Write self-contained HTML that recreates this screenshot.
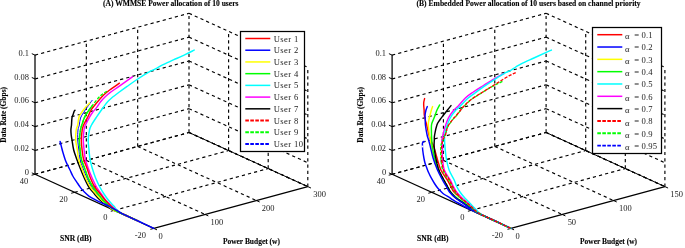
<!DOCTYPE html>
<html><head><meta charset="utf-8"><style>
html,body{margin:0;padding:0;background:#fff;}
svg{display:block;will-change:transform;}
.g{stroke:#000;stroke-width:1.15;stroke-dasharray:3.2 3.1;fill:none;}
.ax{stroke:#000;stroke-width:1.25;fill:none;}
.ax2{stroke:#000;stroke-width:1.0;fill:none;}
.tk{stroke:#000;stroke-width:1;fill:none;}
path{fill:none;stroke-width:1.45;stroke-linejoin:round;stroke-linecap:round;}
.dd{stroke-dasharray:3.2 1.5;stroke-linecap:butt;stroke-width:1.35;}
.kd{stroke-dasharray:60 0 3 1.2 3 1.2 3 1.2 3 1.2 3 1.2 3 1.2 3 1.2 3 1.2 3 1.2 3 1.2 3 1.2 3 1.2 3 1.2 3 1.2 3 1.2 3 1.2 3 1.2 3 1.2 200;}
.ld{stroke-dasharray:3.6 1.4;stroke-width:1.9;}
text{font-family:"Liberation Serif",serif;fill:#222;}
.tl{font-size:9px;fill:#222;}
.bl{font-size:7.6px;font-weight:bold;fill:#000;stroke:#000;stroke-width:0.12;}
.lg{font-size:8.6px;fill:#222;letter-spacing:0.4px;}
</style></head><body>
<svg width="685" height="248" viewBox="0 0 685 248">
<line x1="35.00" y1="174.30" x2="189.00" y2="132.50" class="g"/>
<line x1="74.60" y1="192.33" x2="228.60" y2="150.53" class="g"/>
<line x1="114.20" y1="210.37" x2="268.20" y2="168.57" class="g"/>
<line x1="86.33" y1="160.37" x2="205.13" y2="214.47" class="g"/>
<line x1="137.67" y1="146.43" x2="256.47" y2="200.53" class="g"/>
<line x1="189.00" y1="132.50" x2="307.80" y2="186.60" class="g"/>
<line x1="86.33" y1="160.37" x2="86.33" y2="41.17" class="g"/>
<line x1="137.67" y1="146.43" x2="137.67" y2="27.23" class="g"/>
<line x1="189.00" y1="132.50" x2="189.00" y2="13.30" class="g"/>
<line x1="35.00" y1="174.30" x2="189.00" y2="132.50" class="g"/>
<line x1="35.00" y1="150.46" x2="189.00" y2="108.66" class="g"/>
<line x1="35.00" y1="126.62" x2="189.00" y2="84.82" class="g"/>
<line x1="35.00" y1="102.78" x2="189.00" y2="60.98" class="g"/>
<line x1="35.00" y1="78.94" x2="189.00" y2="37.14" class="g"/>
<line x1="35.00" y1="55.10" x2="189.00" y2="13.30" class="g"/>
<line x1="228.60" y1="150.53" x2="228.60" y2="31.33" class="g"/>
<line x1="268.20" y1="168.57" x2="268.20" y2="49.37" class="g"/>
<line x1="307.80" y1="186.60" x2="307.80" y2="67.40" class="g"/>
<line x1="189.00" y1="132.50" x2="307.80" y2="186.60" class="g"/>
<line x1="189.00" y1="108.66" x2="307.80" y2="162.76" class="g"/>
<line x1="189.00" y1="84.82" x2="307.80" y2="138.92" class="g"/>
<line x1="189.00" y1="60.98" x2="307.80" y2="115.08" class="g"/>
<line x1="189.00" y1="37.14" x2="307.80" y2="91.24" class="g"/>
<line x1="189.00" y1="13.30" x2="307.80" y2="67.40" class="g"/>
<line x1="392.10" y1="174.30" x2="546.10" y2="132.50" class="g"/>
<line x1="431.70" y1="192.33" x2="585.70" y2="150.53" class="g"/>
<line x1="471.30" y1="210.37" x2="625.30" y2="168.57" class="g"/>
<line x1="443.43" y1="160.37" x2="562.23" y2="214.47" class="g"/>
<line x1="494.77" y1="146.43" x2="613.57" y2="200.53" class="g"/>
<line x1="546.10" y1="132.50" x2="664.90" y2="186.60" class="g"/>
<line x1="443.43" y1="160.37" x2="443.43" y2="41.17" class="g"/>
<line x1="494.77" y1="146.43" x2="494.77" y2="27.23" class="g"/>
<line x1="546.10" y1="132.50" x2="546.10" y2="13.30" class="g"/>
<line x1="392.10" y1="174.30" x2="546.10" y2="132.50" class="g"/>
<line x1="392.10" y1="150.46" x2="546.10" y2="108.66" class="g"/>
<line x1="392.10" y1="126.62" x2="546.10" y2="84.82" class="g"/>
<line x1="392.10" y1="102.78" x2="546.10" y2="60.98" class="g"/>
<line x1="392.10" y1="78.94" x2="546.10" y2="37.14" class="g"/>
<line x1="392.10" y1="55.10" x2="546.10" y2="13.30" class="g"/>
<line x1="585.70" y1="150.53" x2="585.70" y2="31.33" class="g"/>
<line x1="625.30" y1="168.57" x2="625.30" y2="49.37" class="g"/>
<line x1="664.90" y1="186.60" x2="664.90" y2="67.40" class="g"/>
<line x1="546.10" y1="132.50" x2="664.90" y2="186.60" class="g"/>
<line x1="546.10" y1="108.66" x2="664.90" y2="162.76" class="g"/>
<line x1="546.10" y1="84.82" x2="664.90" y2="138.92" class="g"/>
<line x1="546.10" y1="60.98" x2="664.90" y2="115.08" class="g"/>
<line x1="546.10" y1="37.14" x2="664.90" y2="91.24" class="g"/>
<line x1="546.10" y1="13.30" x2="664.90" y2="67.40" class="g"/>
<line x1="35.00" y1="174.30" x2="35.00" y2="55.10" class="ax"/>
<line x1="35.00" y1="174.30" x2="153.80" y2="228.40" class="ax"/>
<line x1="153.80" y1="228.40" x2="307.80" y2="186.60" class="ax"/>
<line x1="189.00" y1="132.50" x2="307.80" y2="186.60" class="ax2"/>
<line x1="35.00" y1="174.30" x2="31.81" y2="172.85" class="tk"/>
<line x1="35.00" y1="150.46" x2="31.81" y2="149.01" class="tk"/>
<line x1="35.00" y1="126.62" x2="31.81" y2="125.17" class="tk"/>
<line x1="35.00" y1="102.78" x2="31.81" y2="101.33" class="tk"/>
<line x1="35.00" y1="78.94" x2="31.81" y2="77.49" class="tk"/>
<line x1="35.00" y1="55.10" x2="31.81" y2="53.65" class="tk"/>
<line x1="35.00" y1="174.30" x2="31.62" y2="175.22" class="tk"/>
<line x1="74.60" y1="192.33" x2="71.22" y2="193.25" class="tk"/>
<line x1="114.20" y1="210.37" x2="110.82" y2="211.28" class="tk"/>
<line x1="153.80" y1="228.40" x2="150.42" y2="229.32" class="tk"/>
<line x1="153.80" y1="228.40" x2="156.99" y2="229.85" class="tk"/>
<line x1="205.13" y1="214.47" x2="208.32" y2="215.92" class="tk"/>
<line x1="256.47" y1="200.53" x2="259.65" y2="201.98" class="tk"/>
<line x1="307.80" y1="186.60" x2="310.99" y2="188.05" class="tk"/>
<line x1="392.10" y1="174.30" x2="392.10" y2="55.10" class="ax"/>
<line x1="392.10" y1="174.30" x2="510.90" y2="228.40" class="ax"/>
<line x1="510.90" y1="228.40" x2="664.90" y2="186.60" class="ax"/>
<line x1="546.10" y1="132.50" x2="664.90" y2="186.60" class="ax2"/>
<line x1="392.10" y1="174.30" x2="388.91" y2="172.85" class="tk"/>
<line x1="392.10" y1="150.46" x2="388.91" y2="149.01" class="tk"/>
<line x1="392.10" y1="126.62" x2="388.91" y2="125.17" class="tk"/>
<line x1="392.10" y1="102.78" x2="388.91" y2="101.33" class="tk"/>
<line x1="392.10" y1="78.94" x2="388.91" y2="77.49" class="tk"/>
<line x1="392.10" y1="55.10" x2="388.91" y2="53.65" class="tk"/>
<line x1="392.10" y1="174.30" x2="388.72" y2="175.22" class="tk"/>
<line x1="431.70" y1="192.33" x2="428.32" y2="193.25" class="tk"/>
<line x1="471.30" y1="210.37" x2="467.92" y2="211.28" class="tk"/>
<line x1="510.90" y1="228.40" x2="507.52" y2="229.32" class="tk"/>
<line x1="510.90" y1="228.40" x2="514.09" y2="229.85" class="tk"/>
<line x1="562.23" y1="214.47" x2="565.42" y2="215.92" class="tk"/>
<line x1="613.57" y1="200.53" x2="616.75" y2="201.98" class="tk"/>
<line x1="664.90" y1="186.60" x2="668.09" y2="188.05" class="tk"/>
<path d="M75.00,110.20 C74.88,110.33 74.58,110.38 74.30,111.00 C74.02,111.62 73.67,112.88 73.30,113.90 C72.93,114.92 72.37,115.90 72.10,117.10 C71.83,118.30 71.80,119.78 71.70,121.10 C71.60,122.42 71.63,123.52 71.50,125.00 C71.37,126.48 70.95,128.33 70.90,130.00 C70.85,131.67 71.02,133.33 71.20,135.00 C71.38,136.67 71.58,137.50 72.00,140.00 C72.42,142.50 72.92,146.83 73.70,150.00 C74.48,153.17 75.63,156.00 76.70,159.00 C77.77,162.00 78.83,164.83 80.10,168.00 C81.37,171.17 82.83,174.83 84.30,178.00 C85.77,181.17 87.20,184.33 88.90,187.00 C90.60,189.67 92.65,191.83 94.50,194.00 C96.35,196.17 97.88,198.00 100.00,200.00 C102.12,202.00 105.03,204.33 107.20,206.00 C109.37,207.67 111.20,209.03 113.00,210.00 C114.80,210.97 116.00,210.97 118.00,211.80 C120.00,212.63 121.83,213.54 125.00,214.98 C128.17,216.43 135.00,219.54 137.00,220.45" stroke="#000" />
<path d="M92.10,100.40 C91.30,101.52 88.72,105.08 87.30,107.10 C85.88,109.12 84.73,110.68 83.60,112.50 C82.47,114.32 81.22,115.92 80.50,118.00 C79.78,120.08 79.72,123.00 79.30,125.00 C78.88,127.00 78.27,127.50 78.00,130.00 C77.73,132.50 77.55,136.67 77.70,140.00 C77.85,143.33 78.52,146.83 78.90,150.00 C79.28,153.17 79.33,156.00 80.00,159.00 C80.67,162.00 81.73,164.83 82.90,168.00 C84.07,171.17 85.57,174.83 87.00,178.00 C88.43,181.17 89.83,184.33 91.50,187.00 C93.17,189.67 95.22,191.83 97.00,194.00 C98.78,196.17 100.25,198.00 102.20,200.00 C104.15,202.00 106.73,204.33 108.70,206.00 C110.67,207.67 112.28,208.96 114.00,210.00 C115.72,211.04 117.00,211.35 119.00,212.25 C121.00,213.16 122.83,214.00 126.00,215.44 C129.17,216.88 136.00,219.99 138.00,220.90" stroke="#00f" style="stroke-width:1"/>
<path d="M89.70,102.90 C88.88,103.80 86.22,106.60 84.80,108.30 C83.38,110.00 82.17,111.65 81.20,113.10 C80.23,114.55 79.58,115.02 79.00,117.00 C78.42,118.98 78.17,122.83 77.70,125.00 C77.23,127.17 76.53,127.50 76.20,130.00 C75.87,132.50 75.52,136.67 75.70,140.00 C75.88,143.33 76.83,146.83 77.30,150.00 C77.77,153.17 77.77,156.00 78.50,159.00 C79.23,162.00 80.52,164.83 81.70,168.00 C82.88,171.17 84.17,174.83 85.60,178.00 C87.03,181.17 88.57,184.33 90.30,187.00 C92.03,189.67 94.13,191.83 96.00,194.00 C97.87,196.17 99.50,198.00 101.50,200.00 C103.50,202.00 106.00,204.33 108.00,206.00 C110.00,207.67 111.75,209.00 113.50,210.00 C115.25,211.00 116.50,211.16 118.50,212.02 C120.50,212.89 122.33,213.77 125.50,215.21 C128.67,216.65 135.50,219.77 137.50,220.68" stroke="#ff0" />
<path d="M92.10,105.90 C90.98,107.52 87.12,112.42 85.40,115.60 C83.68,118.78 82.62,122.60 81.80,125.00 C80.98,127.40 80.92,127.50 80.50,130.00 C80.08,132.50 79.37,136.67 79.30,140.00 C79.23,143.33 79.77,146.83 80.10,150.00 C80.43,153.17 80.57,156.00 81.30,159.00 C82.03,162.00 83.37,164.83 84.50,168.00 C85.63,171.17 86.70,174.83 88.10,178.00 C89.50,181.17 91.22,184.33 92.90,187.00 C94.58,189.67 96.53,191.83 98.20,194.00 C99.87,196.17 101.02,198.00 102.90,200.00 C104.78,202.00 107.57,204.33 109.50,206.00 C111.43,207.67 112.83,208.92 114.50,210.00 C116.17,211.08 117.50,211.54 119.50,212.48 C121.50,213.42 123.33,214.23 126.50,215.67 C129.67,217.11 136.50,220.22 138.50,221.13" stroke="#0f0" />
<path d="M194.20,50.10 C192.68,50.85 188.48,53.00 185.10,54.60 C181.72,56.20 177.65,58.00 173.90,59.70 C170.15,61.40 165.62,63.30 162.60,64.80 C159.58,66.30 158.25,67.38 155.80,68.70 C153.35,70.02 151.03,70.90 147.90,72.70 C144.77,74.50 140.47,77.22 137.00,79.50 C133.53,81.78 130.03,84.32 127.10,86.40 C124.17,88.48 121.98,90.07 119.40,92.00 C116.82,93.93 113.63,96.28 111.60,98.00 C109.57,99.72 108.83,100.38 107.20,102.30 C105.57,104.22 103.62,106.98 101.80,109.50 C99.98,112.02 98.02,114.82 96.30,117.40 C94.58,119.98 92.63,122.90 91.50,125.00 C90.37,127.10 90.05,127.50 89.50,130.00 C88.95,132.50 88.28,136.67 88.20,140.00 C88.12,143.33 88.70,146.83 89.00,150.00 C89.30,153.17 89.47,156.00 90.00,159.00 C90.53,162.00 91.27,164.83 92.20,168.00 C93.13,171.17 94.33,174.83 95.60,178.00 C96.87,181.17 98.40,184.33 99.80,187.00 C101.20,189.67 102.58,191.83 104.00,194.00 C105.42,196.17 106.67,198.00 108.30,200.00 C109.93,202.00 112.35,204.33 113.80,206.00 C115.25,207.67 115.63,208.73 117.00,210.00 C118.37,211.27 120.00,212.48 122.00,213.62 C124.00,214.75 125.83,215.36 129.00,216.81 C132.17,218.25 139.00,221.36 141.00,222.27" stroke="#0ff" />
<path d="M132.40,76.90 C130.23,78.43 123.18,83.43 119.40,86.10 C115.62,88.77 112.18,91.00 109.70,92.90 C107.22,94.80 105.98,96.07 104.50,97.50 C103.02,98.93 102.07,99.90 100.80,101.50 C99.53,103.10 98.28,105.27 96.90,107.10 C95.52,108.93 93.70,110.88 92.50,112.50 C91.30,114.12 90.88,114.72 89.70,116.80 C88.52,118.88 86.35,122.80 85.40,125.00 C84.45,127.20 84.35,127.50 84.00,130.00 C83.65,132.50 83.28,136.67 83.30,140.00 C83.32,143.33 83.77,146.83 84.10,150.00 C84.43,153.17 84.63,156.00 85.30,159.00 C85.97,162.00 86.97,164.83 88.10,168.00 C89.23,171.17 90.70,174.83 92.10,178.00 C93.50,181.17 94.95,184.33 96.50,187.00 C98.05,189.67 99.88,191.83 101.40,194.00 C102.92,196.17 103.92,198.00 105.60,200.00 C107.28,202.00 109.77,204.33 111.50,206.00 C113.23,207.67 114.42,208.81 116.00,210.00 C117.58,211.19 119.00,212.10 121.00,213.16 C123.00,214.22 124.83,214.91 128.00,216.35 C131.17,217.79 138.00,220.90 140.00,221.82" stroke="#f0f" />
<path d="M119.40,83.20 C117.78,84.33 112.28,88.07 109.70,90.00 C107.12,91.93 105.67,93.13 103.90,94.80 C102.13,96.47 100.60,98.30 99.10,100.00 C97.60,101.70 96.23,103.33 94.90,105.00 C93.57,106.67 92.27,108.03 91.10,110.00 C89.93,111.97 89.15,114.30 87.90,116.80 C86.65,119.30 84.55,122.80 83.60,125.00 C82.65,127.20 82.58,127.50 82.20,130.00 C81.82,132.50 81.32,136.67 81.30,140.00 C81.28,143.33 81.73,146.83 82.10,150.00 C82.47,153.17 82.70,156.00 83.50,159.00 C84.30,162.00 85.75,164.83 86.90,168.00 C88.05,171.17 89.10,174.83 90.40,178.00 C91.70,181.17 93.05,184.33 94.70,187.00 C96.35,189.67 98.58,191.83 100.30,194.00 C102.02,196.17 103.23,198.00 105.00,200.00 C106.77,202.00 109.15,204.33 110.90,206.00 C112.65,207.67 113.90,208.84 115.50,210.00 C117.10,211.16 118.50,211.92 120.50,212.94 C122.50,213.96 124.33,214.68 127.50,216.12 C130.67,217.57 137.50,220.68 139.50,221.59" stroke="#f00" />
<path d="M106.90,91.20 C105.75,92.03 102.47,93.75 100.00,96.20 C97.53,98.65 94.53,102.67 92.10,105.90 C89.67,109.13 87.12,112.42 85.40,115.60 C83.68,118.78 82.62,122.60 81.80,125.00 C80.98,127.40 80.92,127.50 80.50,130.00 C80.08,132.50 79.37,136.67 79.30,140.00 C79.23,143.33 79.77,146.83 80.10,150.00 C80.43,153.17 80.57,156.00 81.30,159.00 C82.03,162.00 83.37,164.83 84.50,168.00 C85.63,171.17 86.70,174.83 88.10,178.00 C89.50,181.17 91.22,184.33 92.90,187.00 C94.58,189.67 96.53,191.83 98.20,194.00 C99.87,196.17 101.02,198.00 102.90,200.00 C104.78,202.00 107.57,204.33 109.50,206.00 C111.43,207.67 112.83,208.92 114.50,210.00 C116.17,211.08 117.50,211.54 119.50,212.48 C121.50,213.42 123.33,214.23 126.50,215.67 C129.67,217.11 136.50,220.22 138.50,221.13" stroke="#0f0" class="dd"/>
<path d="M60.10,141.50 C60.33,142.42 61.05,145.25 61.50,147.00 C61.95,148.75 62.17,149.83 62.80,152.00 C63.43,154.17 64.52,157.83 65.30,160.00 C66.08,162.17 66.72,163.33 67.50,165.00 C68.28,166.67 69.12,168.17 70.00,170.00 C70.88,171.83 71.70,174.03 72.80,176.00 C73.90,177.97 75.32,179.87 76.60,181.80 C77.88,183.73 79.20,185.90 80.50,187.60 C81.80,189.30 82.95,190.55 84.40,192.00 C85.85,193.45 87.58,195.10 89.20,196.30 C90.82,197.50 92.42,198.28 94.10,199.20 C95.78,200.12 97.23,200.83 99.30,201.80 C101.37,202.77 104.45,204.00 106.50,205.00 C108.55,206.00 109.85,206.87 111.60,207.80 C113.35,208.73 115.27,209.63 117.00,210.60 C118.73,211.57 120.00,212.58 122.00,213.62 C124.00,214.65 123.70,214.34 129.00,216.81 C134.30,219.27 149.67,226.47 153.80,228.40" stroke="#00f" />
<path d="M424.30,141.40 C424.08,141.48 423.32,141.55 423.00,141.90 C422.68,142.25 422.48,142.82 422.40,143.50 C422.32,144.18 422.45,144.92 422.50,146.00 C422.55,147.08 422.47,148.00 422.70,150.00 C422.93,152.00 423.52,155.83 423.90,158.00 C424.28,160.17 424.52,161.33 425.00,163.00 C425.48,164.67 426.18,166.37 426.80,168.00 C427.42,169.63 427.98,171.18 428.70,172.80 C429.42,174.42 430.13,175.92 431.10,177.70 C432.07,179.48 433.37,181.73 434.50,183.50 C435.63,185.27 436.90,187.05 437.90,188.30 C438.90,189.55 439.42,189.97 440.50,191.00 C441.58,192.03 442.87,193.40 444.40,194.50 C445.93,195.60 448.43,196.78 449.70,197.60 C450.97,198.42 450.95,198.70 452.00,199.40 C453.05,200.10 454.52,200.97 456.00,201.80 C457.48,202.63 459.40,203.58 460.90,204.40 C462.40,205.22 463.53,205.90 465.00,206.70 C466.47,207.50 467.73,208.23 469.70,209.20 C471.67,210.17 474.78,211.56 476.80,212.50 C478.82,213.44 479.80,213.93 481.80,214.85 C483.80,215.77 483.95,215.78 488.80,218.04 C493.65,220.29 507.22,226.67 510.90,228.40" stroke="#00f" />
<path d="M424.60,98.60 C424.47,99.17 423.95,100.92 423.80,102.00 C423.65,103.08 423.65,103.77 423.70,105.10 C423.75,106.43 424.00,108.35 424.10,110.00 C424.20,111.65 424.10,113.33 424.30,115.00 C424.50,116.67 424.90,118.33 425.30,120.00 C425.70,121.67 426.08,122.50 426.70,125.00 C427.32,127.50 428.35,132.50 429.00,135.00 C429.65,137.50 429.83,138.17 430.60,140.00 C431.37,141.83 432.53,143.00 433.60,146.00 C434.67,149.00 435.78,154.00 437.00,158.00 C438.22,162.00 439.17,166.33 440.90,170.00 C442.63,173.67 445.78,177.33 447.40,180.00 C449.02,182.67 449.50,184.00 450.60,186.00 C451.70,188.00 452.27,190.00 454.00,192.00 C455.73,194.00 458.92,196.27 461.00,198.00 C463.08,199.73 464.75,200.93 466.50,202.40 C468.25,203.87 469.83,205.28 471.50,206.80 C473.17,208.32 474.83,210.18 476.50,211.50 C478.17,212.82 479.50,213.65 481.50,214.71 C483.50,215.78 485.33,216.46 488.50,217.90 C491.67,219.34 498.50,222.45 500.50,223.36" stroke="#f00" />
<path d="M432.60,106.60 C432.40,107.17 431.82,108.60 431.40,110.00 C430.98,111.40 430.52,113.33 430.10,115.00 C429.68,116.67 429.20,118.33 428.90,120.00 C428.60,121.67 428.20,122.50 428.30,125.00 C428.40,127.50 429.17,132.50 429.50,135.00 C429.83,137.50 430.02,138.17 430.30,140.00 C430.58,141.83 430.57,143.00 431.20,146.00 C431.83,149.00 432.93,154.00 434.10,158.00 C435.27,162.00 436.68,166.33 438.20,170.00 C439.72,173.67 441.77,177.33 443.20,180.00 C444.63,182.67 445.63,184.00 446.80,186.00 C447.97,188.00 448.67,190.00 450.20,192.00 C451.73,194.00 453.97,196.27 456.00,198.00 C458.03,199.73 460.35,200.93 462.40,202.40 C464.45,203.87 466.33,205.40 468.30,206.80 C470.27,208.20 472.38,209.66 474.20,210.80 C476.02,211.94 477.20,212.66 479.20,213.66 C481.20,214.67 480.92,214.40 486.20,216.85 C491.48,219.31 506.78,226.48 510.90,228.40" stroke="#ff0" />
<path d="M439.70,104.90 C439.25,105.75 437.75,108.32 437.00,110.00 C436.25,111.68 435.83,113.33 435.20,115.00 C434.57,116.67 433.82,118.33 433.20,120.00 C432.58,121.67 431.78,122.50 431.50,125.00 C431.22,127.50 431.45,132.50 431.50,135.00 C431.55,137.50 431.68,138.17 431.80,140.00 C431.92,141.83 431.73,143.00 432.20,146.00 C432.67,149.00 433.53,154.00 434.60,158.00 C435.67,162.00 437.10,166.33 438.60,170.00 C440.10,173.67 442.17,177.33 443.60,180.00 C445.03,182.67 446.03,184.00 447.20,186.00 C448.37,188.00 448.97,190.00 450.60,192.00 C452.23,194.00 454.85,196.27 457.00,198.00 C459.15,199.73 461.42,200.93 463.50,202.40 C465.58,203.87 467.58,205.37 469.50,206.80 C471.42,208.23 473.25,209.80 475.00,211.00 C476.75,212.20 478.00,212.99 480.00,214.03 C482.00,215.06 483.83,215.77 487.00,217.22 C490.17,218.66 497.00,221.77 499.00,222.68" stroke="#0f0" />
<path d="M504.00,73.50 C502.37,74.38 497.62,76.80 494.20,78.80 C490.78,80.80 486.98,83.30 483.50,85.50 C480.02,87.70 476.28,89.95 473.30,92.00 C470.32,94.05 468.18,95.38 465.60,97.80 C463.02,100.22 459.75,104.47 457.80,106.50 C455.85,108.53 455.43,108.13 453.90,110.00 C452.37,111.87 450.05,114.95 448.60,117.70 C447.15,120.45 446.08,123.78 445.20,126.50 C444.32,129.22 443.87,131.75 443.30,134.00 C442.73,136.25 441.93,138.00 441.80,140.00 C441.67,142.00 442.38,143.00 442.50,146.00 C442.62,149.00 442.20,154.00 442.50,158.00 C442.80,162.00 443.00,166.33 444.30,170.00 C445.60,173.67 448.83,177.33 450.30,180.00 C451.77,182.67 452.07,184.00 453.10,186.00 C454.13,188.00 455.02,190.00 456.50,192.00 C457.98,194.00 460.23,196.27 462.00,198.00 C463.77,199.73 465.43,200.93 467.10,202.40 C468.77,203.87 470.38,205.25 472.00,206.80 C473.62,208.35 475.17,210.36 476.80,211.70 C478.43,213.04 479.80,213.79 481.80,214.85 C483.80,215.90 485.63,216.59 488.80,218.04 C491.97,219.48 498.80,222.59 500.80,223.50" stroke="#f0f" />
<path d="M451.00,105.60 C450.42,106.33 448.75,108.43 447.50,110.00 C446.25,111.57 444.78,113.33 443.50,115.00 C442.22,116.67 440.90,118.33 439.80,120.00 C438.70,121.67 437.77,122.50 436.90,125.00 C436.03,127.50 435.03,132.50 434.60,135.00 C434.17,137.50 434.38,138.17 434.30,140.00 C434.22,141.83 434.02,144.00 434.10,146.00 C434.18,148.00 434.52,150.00 434.80,152.00 C435.08,154.00 435.12,155.00 435.80,158.00 C436.48,161.00 437.53,166.33 438.90,170.00 C440.27,173.67 442.60,177.33 444.00,180.00 C445.40,182.67 446.22,184.00 447.30,186.00 C448.38,188.00 449.05,190.00 450.50,192.00 C451.95,194.00 453.98,196.27 456.00,198.00 C458.02,199.73 460.52,200.93 462.60,202.40 C464.68,203.87 466.57,205.40 468.50,206.80 C470.43,208.20 472.42,209.66 474.20,210.80 C475.98,211.94 477.20,212.66 479.20,213.66 C481.20,214.67 483.03,215.41 486.20,216.85 C489.37,218.29 496.20,221.41 498.20,222.32" stroke="#000" class="kd"/>
<path d="M551.40,50.10 C550.35,50.57 548.02,51.58 545.10,52.90 C542.18,54.22 537.65,56.30 533.90,58.00 C530.15,59.70 525.62,61.60 522.60,63.10 C519.58,64.60 517.78,65.78 515.80,67.00 C513.82,68.22 512.40,69.45 510.70,70.40 C509.00,71.35 508.25,71.20 505.60,72.70 C502.95,74.20 498.32,77.15 494.80,79.40 C491.28,81.65 487.88,83.88 484.50,86.20 C481.12,88.52 477.42,91.17 474.50,93.30 C471.58,95.43 469.50,96.72 467.00,99.00 C464.50,101.28 461.42,105.08 459.50,107.00 C457.58,108.92 457.05,108.67 455.50,110.50 C453.95,112.33 451.67,115.33 450.20,118.00 C448.73,120.67 447.60,123.83 446.70,126.50 C445.80,129.17 445.15,131.75 444.80,134.00 C444.45,136.25 444.58,138.00 444.60,140.00 C444.62,142.00 444.63,143.00 444.90,146.00 C445.17,149.00 445.50,154.00 446.20,158.00 C446.90,162.00 447.77,166.33 449.10,170.00 C450.43,173.67 452.97,177.33 454.20,180.00 C455.43,182.67 455.53,184.00 456.50,186.00 C457.47,188.00 458.62,190.00 460.00,192.00 C461.38,194.00 463.18,196.18 464.80,198.00 C466.42,199.82 468.17,201.32 469.70,202.90 C471.23,204.48 472.52,205.95 474.00,207.50 C475.48,209.05 477.00,210.84 478.60,212.20 C480.20,213.56 481.60,214.56 483.60,215.67 C485.60,216.78 486.05,216.73 490.60,218.86 C495.15,220.98 507.52,226.81 510.90,228.40" stroke="#0ff" />
<path d="M427.30,106.60 C427.08,107.17 426.37,108.60 426.00,110.00 C425.63,111.40 425.22,113.33 425.10,115.00 C424.98,116.67 425.25,118.33 425.30,120.00 C425.35,121.67 425.10,122.50 425.40,125.00 C425.70,127.50 426.57,132.50 427.10,135.00 C427.63,137.50 428.08,138.17 428.60,140.00 C429.12,141.83 429.45,143.00 430.20,146.00 C430.95,149.00 431.88,154.00 433.10,158.00 C434.32,162.00 435.93,166.33 437.50,170.00 C439.07,173.67 441.08,177.33 442.50,180.00 C443.92,182.67 444.83,184.00 446.00,186.00 C447.17,188.00 447.92,190.00 449.50,192.00 C451.08,194.00 453.42,196.27 455.50,198.00 C457.58,199.73 459.92,200.93 462.00,202.40 C464.08,203.87 466.00,205.40 468.00,206.80 C470.00,208.20 472.17,209.67 474.00,210.80 C475.83,211.93 477.00,212.58 479.00,213.57 C481.00,214.57 480.68,214.29 486.00,216.76 C491.32,219.23 506.75,226.46 510.90,228.40" stroke="#00f" />
<path d="M502.40,81.40 C500.50,82.37 494.40,85.32 491.00,87.20 C487.60,89.08 485.27,90.65 482.00,92.70 C478.73,94.75 474.47,97.17 471.40,99.50 C468.33,101.83 465.38,104.92 463.60,106.70 C461.82,108.48 461.98,108.62 460.70,110.20 C459.42,111.78 457.27,114.58 455.90,116.20 C454.53,117.82 453.88,118.08 452.50,119.90 C451.12,121.72 448.73,124.72 447.60,127.10 C446.47,129.48 446.18,132.82 445.70,134.20 C445.22,135.58 445.15,134.43 444.70,135.40 C444.25,136.37 443.63,138.23 443.00,140.00 C442.37,141.77 441.25,143.00 440.90,146.00 C440.55,149.00 440.58,154.00 440.90,158.00 C441.22,162.00 441.47,166.33 442.80,170.00 C444.13,173.67 447.43,177.33 448.90,180.00 C450.37,182.67 450.58,184.00 451.60,186.00 C452.62,188.00 453.60,190.00 455.00,192.00 C456.40,194.00 458.25,196.27 460.00,198.00 C461.75,199.73 463.75,200.93 465.50,202.40 C467.25,203.87 468.75,205.28 470.50,206.80 C472.25,208.32 474.25,210.22 476.00,211.50 C477.75,212.78 479.00,213.46 481.00,214.48 C483.00,215.51 483.02,215.35 488.00,217.67 C492.98,219.99 507.08,226.61 510.90,228.40" stroke="#0f0" class="dd"/>
<path d="M515.70,72.70 C514.65,73.18 512.02,74.17 509.40,75.60 C506.78,77.03 503.07,79.40 500.00,81.30 C496.93,83.20 494.00,85.13 491.00,87.00 C488.00,88.87 485.27,90.45 482.00,92.50 C478.73,94.55 474.47,96.97 471.40,99.30 C468.33,101.63 465.38,104.72 463.60,106.50 C461.82,108.28 461.98,108.42 460.70,110.00 C459.42,111.58 457.27,114.38 455.90,116.00 C454.53,117.62 453.88,117.88 452.50,119.70 C451.12,121.52 448.73,124.52 447.60,126.90 C446.47,129.28 446.47,131.82 445.70,134.00 C444.93,136.18 443.67,138.00 443.00,140.00 C442.33,142.00 441.92,143.00 441.70,146.00 C441.48,149.00 441.40,154.00 441.70,158.00 C442.00,162.00 442.20,166.33 443.50,170.00 C444.80,173.67 448.03,177.33 449.50,180.00 C450.97,182.67 451.25,184.00 452.30,186.00 C453.35,188.00 454.35,190.00 455.80,192.00 C457.25,194.00 459.22,196.27 461.00,198.00 C462.78,199.73 464.75,200.93 466.50,202.40 C468.25,203.87 469.83,205.28 471.50,206.80 C473.17,208.32 474.83,210.18 476.50,211.50 C478.17,212.82 479.50,213.65 481.50,214.71 C483.50,215.78 483.60,215.62 488.50,217.90 C493.40,220.18 507.17,226.65 510.90,228.40" stroke="#f00" class="dd"/>
<line x1="422.5" y1="145.6" x2="422.5" y2="147.4" stroke="#fff" stroke-width="2"/>
<polygon points="60.2,141.2 61.6,144.6 59.4,144.6" fill="#00f"/>
<rect x="240.50" y="31.50" width="64.00" height="120.00" fill="#fff" stroke="#000" stroke-width="1.25"/>
<line x1="245.30" y1="38.50" x2="270.30" y2="38.50" stroke="#f00" stroke-width="1.5" />
<text x="273.7" y="41.50" class="lg">User 1</text>
<line x1="245.30" y1="50.22" x2="270.30" y2="50.22" stroke="#00f" stroke-width="1.5" />
<text x="273.7" y="53.22" class="lg">User 2</text>
<line x1="245.30" y1="61.94" x2="270.30" y2="61.94" stroke="#ff0" stroke-width="1.5" />
<text x="273.7" y="64.94" class="lg">User 3</text>
<line x1="245.30" y1="73.66" x2="270.30" y2="73.66" stroke="#0f0" stroke-width="1.5" />
<text x="273.7" y="76.66" class="lg">User 4</text>
<line x1="245.30" y1="85.38" x2="270.30" y2="85.38" stroke="#0ff" stroke-width="1.5" />
<text x="273.7" y="88.38" class="lg">User 5</text>
<line x1="245.30" y1="97.10" x2="270.30" y2="97.10" stroke="#f0f" stroke-width="1.5" />
<text x="273.7" y="100.10" class="lg">User 6</text>
<line x1="245.30" y1="108.82" x2="270.30" y2="108.82" stroke="#000" stroke-width="1.5" />
<text x="273.7" y="111.82" class="lg">User 7</text>
<line x1="245.30" y1="120.54" x2="270.30" y2="120.54" stroke="#f00" stroke-width="1.5" class="ld"/>
<text x="273.7" y="123.54" class="lg">User 8</text>
<line x1="245.30" y1="132.26" x2="270.30" y2="132.26" stroke="#0f0" stroke-width="1.5" class="ld"/>
<text x="273.7" y="135.26" class="lg">User 9</text>
<line x1="245.30" y1="143.98" x2="270.30" y2="143.98" stroke="#00f" stroke-width="1.5" class="ld"/>
<text x="273.7" y="146.98" class="lg">User 10</text>
<rect x="592.50" y="27.50" width="69.00" height="126.00" fill="#fff" stroke="#000" stroke-width="1.25"/>
<line x1="597.30" y1="34.70" x2="622.30" y2="34.70" stroke="#f00" stroke-width="1.5" />
<text x="625.1" y="39.30" class="lg">&#945;</text><text x="634.2" y="38.10" class="lg" style="letter-spacing:0.15px">= 0.1</text>
<line x1="597.30" y1="47.02" x2="622.30" y2="47.02" stroke="#00f" stroke-width="1.5" />
<text x="625.1" y="51.62" class="lg">&#945;</text><text x="634.2" y="50.42" class="lg" style="letter-spacing:0.15px">= 0.2</text>
<line x1="597.30" y1="59.34" x2="622.30" y2="59.34" stroke="#ff0" stroke-width="1.5" />
<text x="625.1" y="63.94" class="lg">&#945;</text><text x="634.2" y="62.74" class="lg" style="letter-spacing:0.15px">= 0.3</text>
<line x1="597.30" y1="71.66" x2="622.30" y2="71.66" stroke="#0f0" stroke-width="1.5" />
<text x="625.1" y="76.26" class="lg">&#945;</text><text x="634.2" y="75.06" class="lg" style="letter-spacing:0.15px">= 0.4</text>
<line x1="597.30" y1="83.98" x2="622.30" y2="83.98" stroke="#0ff" stroke-width="1.5" />
<text x="625.1" y="88.58" class="lg">&#945;</text><text x="634.2" y="87.38" class="lg" style="letter-spacing:0.15px">= 0.5</text>
<line x1="597.30" y1="96.30" x2="622.30" y2="96.30" stroke="#f0f" stroke-width="1.5" />
<text x="625.1" y="100.90" class="lg">&#945;</text><text x="634.2" y="99.70" class="lg" style="letter-spacing:0.15px">= 0.6</text>
<line x1="597.30" y1="108.62" x2="622.30" y2="108.62" stroke="#000" stroke-width="1.5" />
<text x="625.1" y="113.22" class="lg">&#945;</text><text x="634.2" y="112.02" class="lg" style="letter-spacing:0.15px">= 0.7</text>
<line x1="597.30" y1="120.94" x2="622.30" y2="120.94" stroke="#f00" stroke-width="1.5" class="ld"/>
<text x="625.1" y="125.54" class="lg">&#945;</text><text x="634.2" y="124.34" class="lg" style="letter-spacing:0.15px">= 0.8</text>
<line x1="597.30" y1="133.26" x2="622.30" y2="133.26" stroke="#0f0" stroke-width="1.5" class="ld"/>
<text x="625.1" y="137.86" class="lg">&#945;</text><text x="634.2" y="136.66" class="lg" style="letter-spacing:0.15px">= 0.9</text>
<line x1="597.30" y1="145.58" x2="622.30" y2="145.58" stroke="#00f" stroke-width="1.5" class="ld"/>
<text x="625.1" y="150.18" class="lg">&#945;</text><text x="634.2" y="148.98" class="lg" style="letter-spacing:0.15px">= 0.95</text>
<text transform="translate(29.00,174.90) scale(0.94,1)" class="tl" text-anchor="end">0</text>
<text transform="translate(29.00,151.06) scale(0.94,1)" class="tl" text-anchor="end">0.02</text>
<text transform="translate(29.00,127.22) scale(0.94,1)" class="tl" text-anchor="end">0.04</text>
<text transform="translate(29.00,103.38) scale(0.94,1)" class="tl" text-anchor="end">0.06</text>
<text transform="translate(29.00,79.54) scale(0.94,1)" class="tl" text-anchor="end">0.08</text>
<text transform="translate(29.00,55.70) scale(0.94,1)" class="tl" text-anchor="end">0.1</text>
<text transform="translate(28.20,184.20) scale(0.94,1)" class="tl" text-anchor="end">40</text>
<text transform="translate(67.80,202.23) scale(0.94,1)" class="tl" text-anchor="end">20</text>
<text transform="translate(107.40,220.27) scale(0.94,1)" class="tl" text-anchor="end">0</text>
<text transform="translate(145.90,238.30) scale(0.94,1)" class="tl" text-anchor="end">-20</text>
<text transform="translate(158.40,238.50) scale(0.94,1)" class="tl">0</text>
<text transform="translate(210.53,224.57) scale(0.94,1)" class="tl">100</text>
<text transform="translate(261.87,210.63) scale(0.94,1)" class="tl">200</text>
<text transform="translate(313.20,196.70) scale(0.94,1)" class="tl">300</text>
<text x="60.00" y="241.1" class="bl" textLength="31.5" lengthAdjust="spacingAndGlyphs">SNR (dB)</text>
<text x="222.90" y="244.1" class="bl" textLength="57" lengthAdjust="spacingAndGlyphs">Power Budget (w)</text>
<text transform="translate(6.10,142.7) rotate(-90)" class="bl" textLength="55.7" lengthAdjust="spacingAndGlyphs">Data Rate (Gbps)</text>
<text x="102.90" y="6.3" class="bl" textLength="135.6" lengthAdjust="spacingAndGlyphs">(A) WMMSE Power allocation of 10 users</text>
<text transform="translate(386.10,174.90) scale(0.94,1)" class="tl" text-anchor="end">0</text>
<text transform="translate(386.10,151.06) scale(0.94,1)" class="tl" text-anchor="end">0.02</text>
<text transform="translate(386.10,127.22) scale(0.94,1)" class="tl" text-anchor="end">0.04</text>
<text transform="translate(386.10,103.38) scale(0.94,1)" class="tl" text-anchor="end">0.06</text>
<text transform="translate(386.10,79.54) scale(0.94,1)" class="tl" text-anchor="end">0.08</text>
<text transform="translate(386.10,55.70) scale(0.94,1)" class="tl" text-anchor="end">0.1</text>
<text transform="translate(385.30,184.20) scale(0.94,1)" class="tl" text-anchor="end">40</text>
<text transform="translate(424.90,202.23) scale(0.94,1)" class="tl" text-anchor="end">20</text>
<text transform="translate(464.50,220.27) scale(0.94,1)" class="tl" text-anchor="end">0</text>
<text transform="translate(503.00,238.30) scale(0.94,1)" class="tl" text-anchor="end">-20</text>
<text transform="translate(515.50,238.50) scale(0.94,1)" class="tl">0</text>
<text transform="translate(567.63,224.57) scale(0.94,1)" class="tl">50</text>
<text transform="translate(618.97,210.63) scale(0.94,1)" class="tl">100</text>
<text transform="translate(670.30,196.70) scale(0.94,1)" class="tl">150</text>
<text x="417.10" y="241.1" class="bl" textLength="31.5" lengthAdjust="spacingAndGlyphs">SNR (dB)</text>
<text x="580.00" y="244.1" class="bl" textLength="57" lengthAdjust="spacingAndGlyphs">Power Budget (w)</text>
<text transform="translate(363.20,142.7) rotate(-90)" class="bl" textLength="55.7" lengthAdjust="spacingAndGlyphs">Data Rate (Gbps)</text>
<text x="416.50" y="6.3" class="bl" textLength="224.1" lengthAdjust="spacingAndGlyphs">(B) Embedded Power allocation of 10 users based on channel priority</text>
</svg>
</body></html>
